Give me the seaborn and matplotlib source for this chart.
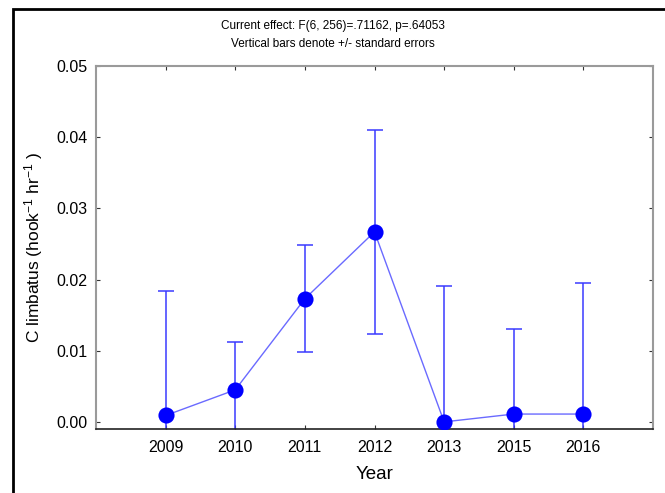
import matplotlib
matplotlib.use("Agg")
import matplotlib.pyplot as plt
import seaborn as sns
import pandas as pd
from matplotlib.patches import Rectangle

years = ["2009", "2010", "2011", "2012", "2013", "2015", "2016"]
means = [0.0009, 0.0045, 0.0173, 0.0267, 0.0000, 0.0011, 0.0011]
std_err = [0.0175, 0.0067, 0.0075, 0.0143, 0.0191, 0.0120, 0.0184]
y_ticks = [0.00, 0.01, 0.02, 0.03, 0.04, 0.05]
y_tick_labels = ["0.00", "0.01", "0.02", "0.03", "0.04", "0.05"]

df = pd.DataFrame({"Year": years, "Value": means, "SE": std_err})

sns.set_theme(style="white")
plt.rcParams["font.family"] = ["Liberation Sans", "DejaVu Sans"]
plt.rcParams["mathtext.fontset"] = "custom"
plt.rcParams["mathtext.rm"] = "Liberation Sans"
plt.rcParams["mathtext.it"] = "Liberation Sans"
plt.rcParams["text.color"] = "black"
plt.rcParams["axes.labelcolor"] = "black"
plt.rcParams["xtick.color"] = "black"
plt.rcParams["ytick.color"] = "black"

fig = plt.figure(figsize=(6.65, 4.93), dpi=100)
ax = fig.add_axes([96 / 665, 1 - 429 / 493, (653 - 96) / 665, (429 - 66) / 493])

blue = "#0000ff"
ax.errorbar(df["Year"], df["Value"], yerr=df["SE"], fmt="none",
            ecolor="#3a3aff", elinewidth=1.1, capsize=5.5, capthick=1.1, zorder=2)
sns.lineplot(data=df, x="Year", y="Value", ax=ax, color="#6a6aff",
             linewidth=1.0, sort=False, zorder=3)
sns.scatterplot(data=df, x="Year", y="Value", ax=ax, color=blue, s=135,
                edgecolor=blue, linewidth=0, zorder=4)

ax.set_xlim(-1, 7)
ax.set_ylim(-0.001, 0.05)
ax.set_yticks(y_ticks)
ax.set_yticklabels(y_tick_labels)

ax.tick_params(axis="both", which="major", direction="in", length=3, width=0.8,
               color="#333333", labelsize=11.5, top=True, right=True,
               labeltop=False, labelright=False, bottom=True, left=True, pad=6)
ax.tick_params(axis="x", pad=8)

for side in ["left", "top", "right"]:
    ax.spines[side].set_color("#9a9a9a")
    ax.spines[side].set_linewidth(1.5)
ax.spines["bottom"].set_color("#222222")
ax.spines["bottom"].set_linewidth(1.2)

ax.set_xlabel("Year", fontsize=13.5, labelpad=8)
ax.set_ylabel(r"C limbatus (hook$^{\mathrm{-1}}$ hr$^{\mathrm{-1}}$ )", fontsize=12.5, labelpad=8)

fig.text(0.5, 1 - 26 / 493, "Current effect: F(6, 256)=.71162, p=.64053",
         ha="center", va="center", fontsize=8.5)
fig.text(0.5, 1 - 44 / 493, "Vertical bars denote +/- standard errors",
         ha="center", va="center", fontsize=8.5)

frame = Rectangle((13 / 665, -0.1), 1.2, 1 - 9 / 493 + 0.1, transform=fig.transFigure,
                  fill=False, edgecolor="black", linewidth=2, clip_on=False)
fig.add_artist(frame)

fig.savefig("out.png", dpi=100)
